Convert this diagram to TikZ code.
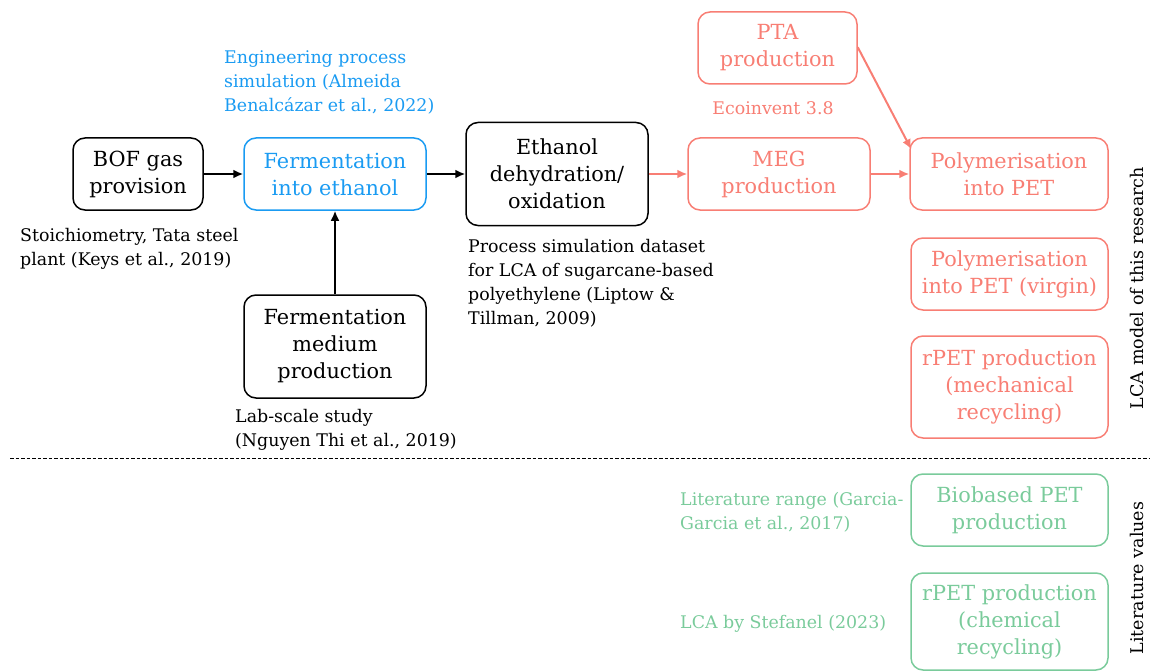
\documentclass[tikz,border=0pt]{standalone}
\usepackage{fontspec}
\setmainfont{DejaVu Serif}
\usetikzlibrary{arrows.meta,calc}
\definecolor{cblue}{HTML}{1A9BF2}
\definecolor{cred}{HTML}{F87E74}
\definecolor{cgreen}{HTML}{7ACB9B}
\tikzset{
  box/.style={draw, rounded corners=12pt, line width=1.5pt, align=center, inner sep=0pt,
    font=\fontsize{20.8}{27}\selectfont},
  blk/.style={box, draw=black, text=black},
  blu/.style={box, draw=cblue, text=cblue},
  red/.style={box, draw=cred, text=cred},
  grn/.style={box, draw=cgreen, text=cgreen},
  note/.style={align=left, inner sep=0pt, font=\fontsize{17.4}{24}\selectfont},
  arr/.style={-{Latex[length=10pt,width=9pt]}, line width=2pt},
  side/.style={rotate=90, inner sep=0pt, font=\fontsize{17.5}{20}\selectfont}
}
\begin{document}
\begin{tikzpicture}[x=1pt,y=-1pt]
\useasboundingbox (0,0) rectangle (1150,671);
% boxes
\node[blk, minimum width=130, minimum height=72] (bof) at (138,174) {BOF gas\\provision};
\node[blu, minimum width=182, minimum height=72] (ferm) at (335,174) {Fermentation\\into ethanol};
\node[blk, minimum width=182, minimum height=103] (eth) at (557,174) {Ethanol\\dehydration/\\oxidation};
\node[blk, minimum width=182, minimum height=103] (med) at (335,346.5) {Fermentation\\medium\\production};
\node[red, minimum width=182, minimum height=72] (meg) at (779,174) {MEG\\production};
\node[red, minimum width=159, minimum height=72] (pta) at (777.5,48) {PTA\\production};
\node[red, minimum width=198, minimum height=72] (poly) at (1009,174) {Polymerisation\\into PET};
\node[red, minimum width=197, minimum height=72] (virg) at (1009.5,274) {Polymerisation\\into PET (virgin)};
\node[red, minimum width=197, minimum height=102] (mech) at (1009.5,387) {rPET production\\(mechanical\\recycling)};
\node[grn, minimum width=197, minimum height=72] (bio) at (1009.5,510) {Biobased PET\\production};
\node[grn, minimum width=197, minimum height=97] (chem) at (1009.5,621.5) {rPET production\\(chemical\\recycling)};
% annotations (anchor = baseline of last line)
\node[note, text=cblue, anchor=base west] (n1) at (224,112) {Engineering process\\simulation (Almeida\\Benalcázar et al., 2022)};
\node[note, anchor=base west] (n2) at (20,265) {Stoichiometry, Tata steel\\plant (Keys et al., 2019)};
\node[note, anchor=base west] (n3) at (468,324) {Process simulation dataset\\for LCA of sugarcane-based\\polyethylene (Liptow \&\\Tillman, 2009)};
\node[note, anchor=base west] (n4) at (235,446) {Lab-scale study\\(Nguyen Thi et al., 2019)};
\node[note, text=cred, anchor=base] (n5) at (773,115) {Ecoinvent 3.8};
\node[note, text=cgreen, anchor=base west] (n6) at (680,529) {Literature range (Garcia-\\Garcia et al., 2017)};
\node[note, text=cgreen, anchor=base west] (n7) at (680,628) {LCA by Stefanel (2023)};
% side labels
\node[side] (s1) at (1137,288) {LCA model of this research};
\node[side] (s2) at (1137,578) {Literature values};
% separator
\coordinate (d1) at (10,458);
\coordinate (d2) at (1150,458);
\draw[line width=0.8pt, dash pattern=on 3.5pt off 2pt] (d1) -- (d2);
% connectors
\draw[arr] (bof) -- (ferm);
\draw[arr] (ferm) -- (eth);
\draw[arr] (med) -- (ferm);
\draw[arr, draw=cred, fill=cred] (eth) -- (meg);
\draw[arr, draw=cred, fill=cred] (meg) -- (poly);
\draw[arr, draw=cred, fill=cred] ($(pta.north east)+(0,36)$) -- ($(poly.north west)+(2,12)$);
\end{tikzpicture}
\end{document}
